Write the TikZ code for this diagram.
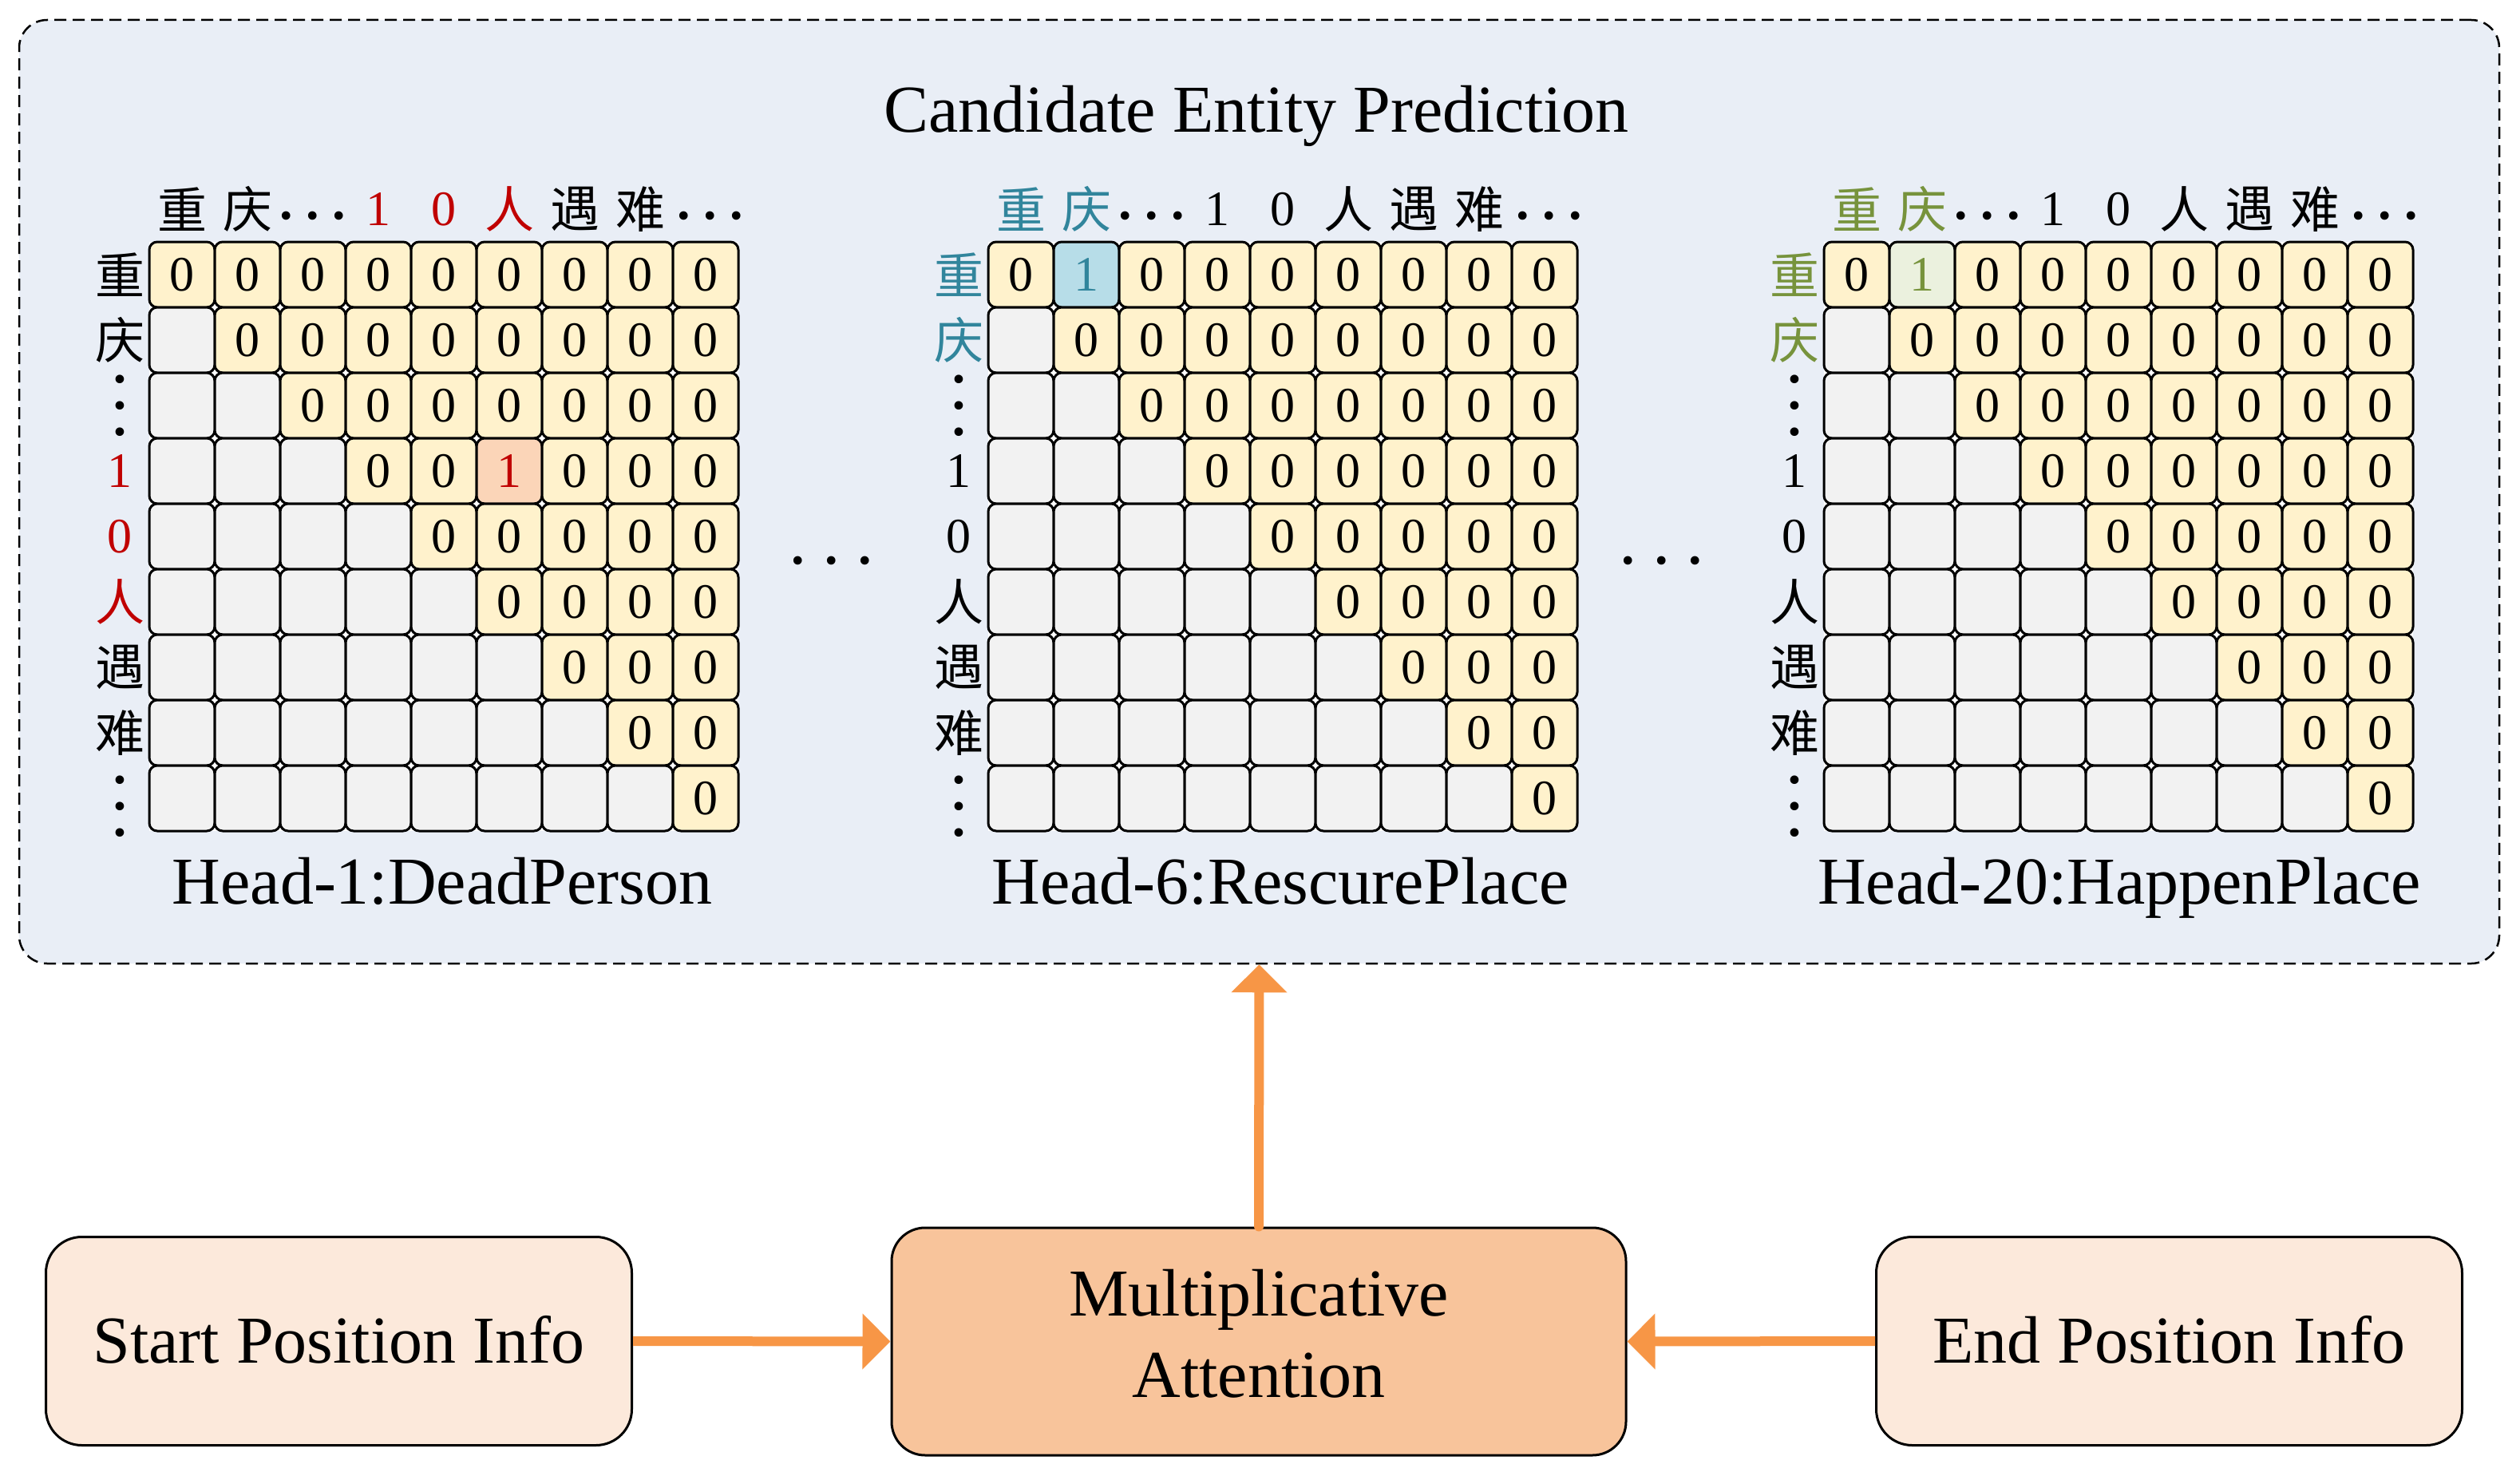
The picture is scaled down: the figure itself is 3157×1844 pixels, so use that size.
\documentclass[tikz,border=0pt]{standalone}
\usepackage{fontspec}
\setmainfont{Liberation Serif}
\newfontfamily\cjk{Noto Sans CJK SC}
\usetikzlibrary{arrows.meta}
\definecolor{outerbg}{HTML}{E9EEF6}
\definecolor{cellY}{HTML}{FFF2CC}
\definecolor{cellG}{HTML}{F2F2F2}
\definecolor{cellP}{HTML}{FBD5B8}
\definecolor{cellB}{HTML}{B7DDE8}
\definecolor{cellGr}{HTML}{EBF1DE}
\definecolor{dred}{HTML}{C00000}
\definecolor{tealtxt}{HTML}{31859C}
\definecolor{olivetxt}{HTML}{77933C}
\definecolor{lightorange}{HTML}{FCE9DB}
\definecolor{midorange}{HTML}{F8C49B}
\definecolor{arroworange}{HTML}{F79646}
\newcommand\bigfont{\fontsize{84}{102}\selectfont}
\newcommand\digfont{\fontsize{62}{70}\selectfont}
\newcommand\cjkfont{\cjk\fontsize{62}{70}\selectfont}
\newcommand\hdotsA{\fontsize{90}{90}\selectfont.\kern10.5pt.\kern10.5pt.}
\newcommand\hdotsB{\fontsize{90}{90}\selectfont.\kern19.5pt.\kern19.5pt.}
\newcommand\clab[5]{\node[#4] (#1) at ({#2+82*(#3-0.5)},262) {#5};}
\newcommand\rlab[5]{\node[#4] (#1) at ({#2-37},{303+82*(#3-0.5)}) {#5};}
\newcommand\matlabels[4]{%
  \clab{m#1-c1}{#2}{1}{cj,text=#3}{重}
  \clab{m#1-c2}{#2}{2}{cj,text=#3}{庆}
  \node[dotlab] (m#1-c3) at ({#2+82*2.5},270) {\hdotsA};
  \clab{m#1-c4}{#2}{4}{dg,text=#4}{1}
  \clab{m#1-c5}{#2}{5}{dg,text=#4}{0}
  \clab{m#1-c6}{#2}{6}{cj,text=#4}{人}
  \clab{m#1-c7}{#2}{7}{cj}{遇}
  \clab{m#1-c8}{#2}{8}{cj}{难}
  \node[dotlab] (m#1-c9) at ({#2+82*8.5+6},270) {\hdotsA};
  \rlab{m#1-r1}{#2}{1}{cj,text=#3}{重}
  \rlab{m#1-r2}{#2}{2}{cj,text=#3}{庆}
  \node[dotlab,rotate=90] (m#1-r3) at ({#2-37},{303+82*2.5}) {\hdotsA};
  \rlab{m#1-r4}{#2}{4}{dg,text=#4}{1}
  \rlab{m#1-r5}{#2}{5}{dg,text=#4}{0}
  \rlab{m#1-r6}{#2}{6}{cj,text=#4}{人}
  \rlab{m#1-r7}{#2}{7}{cj}{遇}
  \rlab{m#1-r8}{#2}{8}{cj}{难}
  \node[dotlab,rotate=90] (m#1-r9) at ({#2-37},{303+82*8.5+10}) {\hdotsA};
}
\begin{document}
\begin{tikzpicture}[x=1pt,y=-1pt,
  big/.style={font=\bigfont, inner sep=0pt},
  cj/.style={font=\cjkfont, inner sep=0pt},
  dg/.style={font=\digfont, inner sep=0pt},
  dotlab/.style={inner sep=0pt},
  cell/.style={draw, line width=3pt, rounded corners=10pt, minimum width=82pt,
    minimum height=82pt, inner sep=0pt, outer sep=0pt, font=\digfont},
  ycell/.style={fill=cellY},
  gcell/.style={fill=cellG},
  sp1/.style={fill=cellP, text=dred},
  sp2/.style={fill=cellB, text=tealtxt},
  sp3/.style={fill=cellGr, text=olivetxt},
  infobox/.style={draw, line width=3pt, rounded corners=45pt, fill=lightorange,
    minimum width=734pt, minimum height=261pt, inner sep=0pt, font=\bigfont,
    text depth=5pt},
  multbox/.style={draw, line width=3pt, rounded corners=42pt, fill=midorange,
    minimum width=920pt, minimum height=285pt, inner sep=0pt, font=\bigfont, align=center},
  arr/.style={draw=arroworange, line width=12pt, -{Triangle[length=35pt,width=68pt]}}
]
\useasboundingbox (0,0) rectangle (3157,1844);
% outer container
\node[draw, dash pattern=on 15pt off 8pt, line width=2.5pt, rounded corners=35pt,
  fill=outerbg, minimum width=3107pt, minimum height=1182pt, inner sep=0pt]
  (outer) at (1577.5,616) {};
\node[big, anchor=base] (title) at (1574,165) {Candidate Entity Prediction};
% matrices
\foreach \m/\L in {1/187,2/1238,3/2285}{
  \fill[white] (\L,303) rectangle ({\L+738},{303+738});
  \foreach \rr in {1,...,9}{
    \foreach \cc in {1,...,9}{
      \def\cst{ycell}\def\cval{0}
      \ifnum\cc<\rr \def\cst{gcell}\def\cval{}\fi
      \ifnum\m=1 \ifnum\rr=4 \ifnum\cc=6 \def\cst{sp1}\def\cval{1}\fi\fi\fi
      \ifnum\m=2 \ifnum\rr=1 \ifnum\cc=2 \def\cst{sp2}\def\cval{1}\fi\fi\fi
      \ifnum\m=3 \ifnum\rr=1 \ifnum\cc=2 \def\cst{sp3}\def\cval{1}\fi\fi\fi
      \node[cell,\cst] (m\m-\rr-\cc) at ({\L+82*(\cc-0.5)},{303+82*(\rr-0.5)}) {\cval};
    }
  }
}
\matlabels{1}{187}{black}{dred}
\matlabels{2}{1238}{tealtxt}{black}
\matlabels{3}{2285}{olivetxt}{black}
% head labels
\node[big, anchor=base] (h1) at (554,1132) {Head-1:DeadPerson};
\node[big, anchor=base] (h6) at (1604,1132) {Head-6:RescurePlace};
\node[big, anchor=base] (h20) at (2655,1132) {Head-20:HappenPlace};
% dots between matrices
\node[dotlab] (gap1) at (1042,702) {\hdotsB};
\node[dotlab] (gap2) at (2082,702) {\hdotsB};
% bottom boxes
\node[infobox] (start) at (424.5,1680) {Start Position Info};
\node[multbox, text depth=20pt] (mult) at (1577,1680.5) {Multiplicative\\Attention};
\node[infobox] (end) at (2717.5,1680) {End Position Info};
% arrows
\draw[arr] (start.east) -- (mult.west);
\draw[arr] (end.west) -- (mult.east);
\draw[arr, line cap=round] (mult.north) -- (outer.south);
\end{tikzpicture}
\end{document}
